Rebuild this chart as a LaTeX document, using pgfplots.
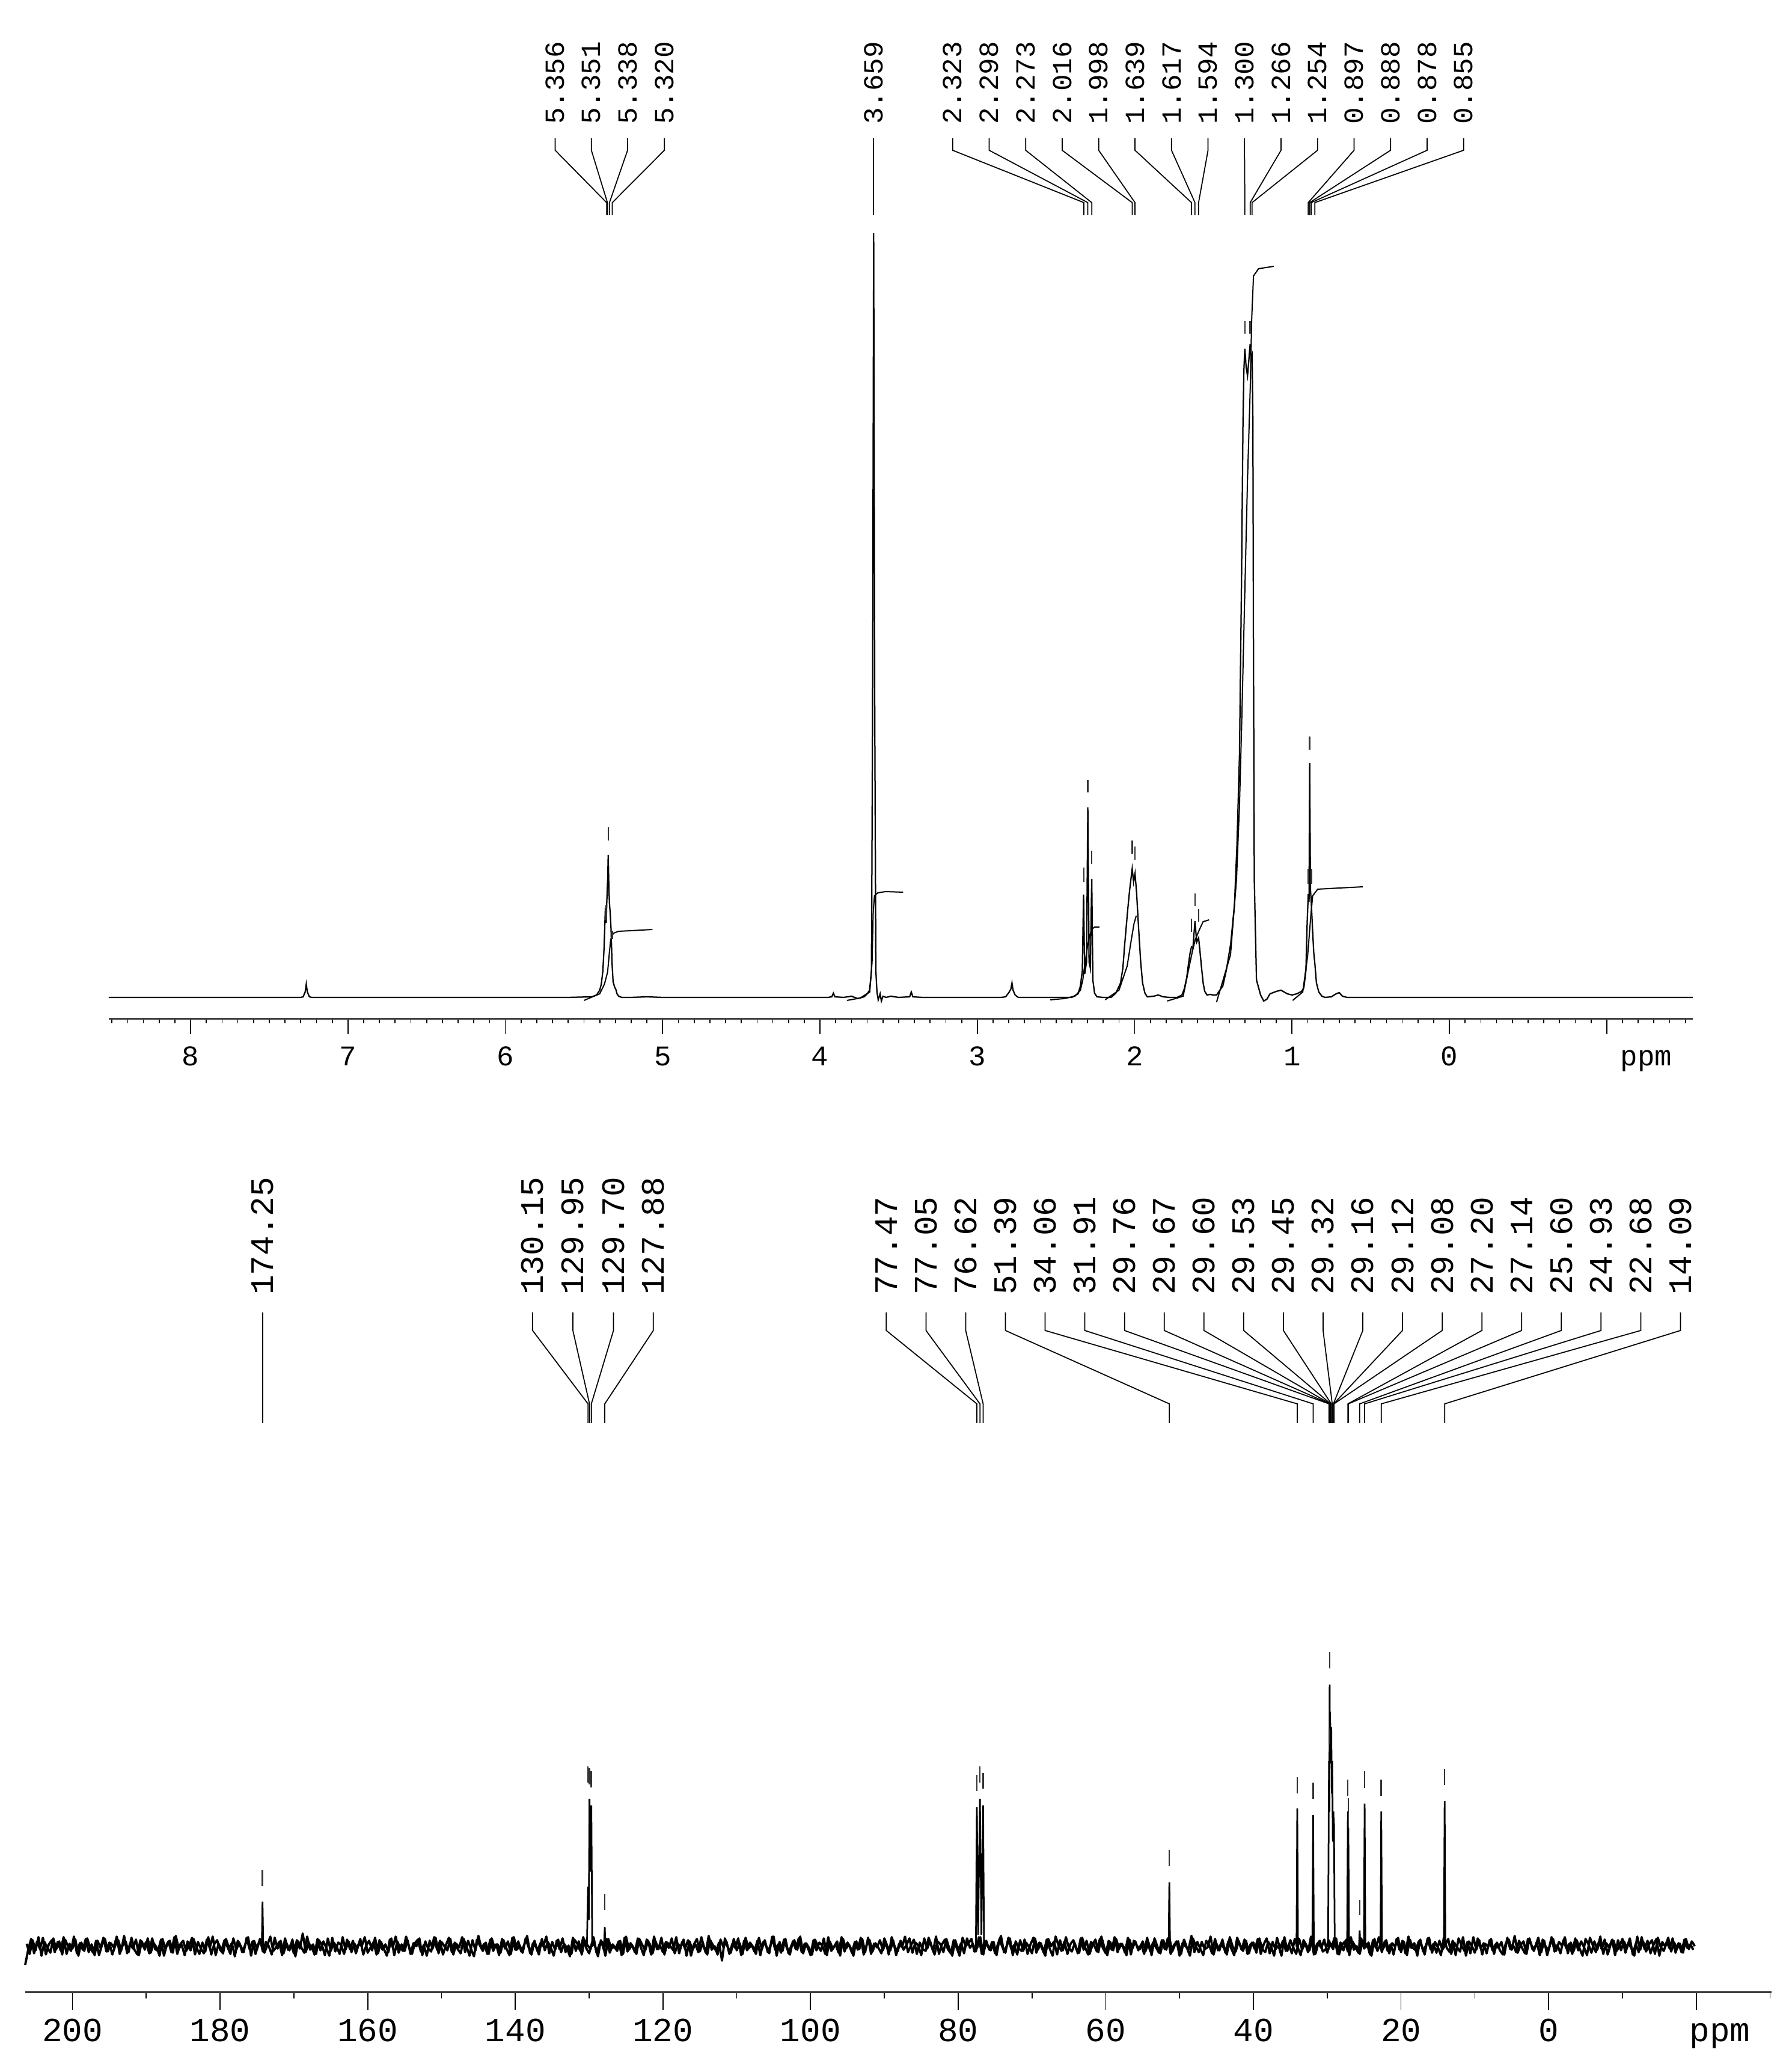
\documentclass[border=0pt]{standalone}
\usepackage{fontspec}
\setmainfont{Liberation Mono}
\usepackage{pgfplots}
\usepackage{pgfplotstable}
\pgfplotsset{compat=1.18}

% 13C baseline noise, one value every 0.4 ppm from 206.4 ppm
\pgfplotstableread[header=false,row sep=\\]{
45\\70\\88\\64\\84\\71\\90\\62\\79\\86\\66\\83\\69\\91\\63\\80\\72\\87\\60\\82\\
68\\89\\73\\65\\85\\61\\78\\88\\67\\81\\74\\92\\63\\77\\84\\66\\90\\70\\62\\86\\
75\\83\\64\\89\\71\\68\\87\\60\\80\\85\\65\\93\\72\\78\\61\\84\\69\\88\\74\\63\\
82\\67\\91\\62\\79\\86\\70\\64\\88\\73\\81\\59\\85\\76\\66\\90\\71\\84\\63\\80\\
87\\65\\77\\92\\68\\74\\83\\61\\89\\70\\79\\64\\86\\72\\97\\66\\81\\75\\62\\88\\
69\\84\\73\\60\\90\\67\\82\\78\\63\\87\\71\\85\\64\\80\\76\\91\\65\\74\\83\\62\\
86\\70\\79\\66\\89\\61\\84\\73\\68\\92\\75\\63\\81\\87\\67\\78\\60\\85\\72\\90\\
64\\83\\76\\69\\88\\62\\80\\74\\91\\66\\85\\71\\59\\87\\77\\68\\82\\63\\89\\73\\
79\\65\\86\\72\\61\\90\\70\\84\\67\\78\\93\\64\\81\\75\\62\\88\\69\\83\\74\\60\\
85\\71\\89\\66\\77\\63\\87\\80\\68\\91\\73\\64\\82\\76\\59\\86\\70\\88\\65\\79\\
72\\84\\61\\90\\67\\81\\74\\63\\88\\78\\69\\85\\62\\92\\71\\77\\66\\83\\73\\89\\
64\\80\\75\\87\\60\\84\\70\\79\\66\\91\\73\\62\\86\\77\\68\\82\\52\\89\\74\\65\\
88\\69\\81\\63\\90\\72\\78\\67\\85\\61\\83\\76\\64\\92\\70\\79\\65\\87\\73\\62\\
84\\71\\89\\66\\80\\74\\61\\86\\69\\82\\77\\63\\91\\68\\75\\84\\60\\88\\72\\79\\
65\\83\\70\\90\\62\\78\\86\\67\\81\\73\\64\\89\\76\\69\\85\\61\\80\\74\\92\\66\\
77\\87\\63\\82\\71\\68\\90\\75\\62\\84\\79\\66\\88\\72\\60\\86\\70\\81\\64\\89\\
73\\80\\67\\91\\63\\85\\76\\69\\83\\61\\88\\74\\65\\90\\71\\78\\62\\86\\68\\82\\
75\\64\\89\\70\\81\\66\\87\\72\\60\\92\\77\\68\\84\\63\\79\\86\\71\\65\\90\\74\\
62\\83\\78\\67\\88\\73\\64\\85\\70\\91\\66\\80\\75\\61\\87\\72\\84\\69\\79\\63\\
90\\68\\82\\74\\65\\86\\71\\89\\63\\77\\84\\60\\81\\76\\70\\93\\66\\83\\72\\61\\
85\\78\\64\\88\\69\\80\\73\\62\\91\\75\\67\\84\\70\\87\\63\\79\\82\\65\\89\\71\\
66\\83\\76\\60\\90\\72\\85\\68\\79\\64\\88\\74\\61\\86\\77\\69\\92\\63\\81\\73\\
87\\65\\80\\71\\89\\62\\78\\84\\67\\91\\70\\76\\63\\85\\74\\82\\60\\88\\68\\79\\
72\\86\\64\\81\\75\\90\\66\\83\\61\\87\\73\\69\\84\\77\\62\\89\\71\\80\\65\\85\\
70\\78\\88\\63\\82\\74\\67\\91\\60\\84\\76\\65\\89\\72\\81\\64\\86\\69\\79\\73\\
83\\62\\90\\71\\77\\66\\85\\73\\64\\88\\80\\68\\82\\61\\87\\75\\70\\91\\67\\78\\
64\\86\\72\\80\\63\\89\\69\\84\\74\\61\\90\\77\\66\\83\\71\\87\\62\\79\\85\\68\\
76\\88\\65\\81\\73\\60\\92\\70\\84\\67\\79\\86\\63\\90\\74\\68\\83\\72\\89\\65\\
81\\66\\87\\73\\79\\70\\
}\noiseC

% the samples in between, every 0.4 ppm from 206.2 ppm
\pgfplotstableread[header=false,row sep=\\]{
80\\63\\86\\69\\91\\60\\83\\74\\65\\89\\71\\84\\62\\87\\76\\68\\92\\64\\81\\70\\
88\\66\\79\\61\\85\\73\\90\\67\\82\\62\\77\\86\\69\\93\\64\\80\\72\\87\\61\\84\\
70\\89\\65\\81\\74\\60\\88\\71\\84\\66\\91\\63\\79\\85\\68\\76\\90\\62\\83\\72\\
64\\87\\73\\92\\61\\80\\69\\86\\75\\63\\89\\70\\82\\66\\78\\91\\60\\85\\71\\88\\
67\\83\\76\\62\\90\\72\\85\\64\\81\\69\\87\\59\\84\\74\\65\\92\\70\\79\\63\\86\\
78\\61\\89\\68\\82\\75\\63\\91\\70\\84\\66\\80\\73\\88\\62\\77\\85\\69\\90\\64\\
83\\71\\60\\87\\74\\92\\65\\79\\68\\86\\63\\81\\76\\89\\61\\84\\72\\67\\91\\70\\
85\\62\\78\\90\\66\\82\\71\\64\\88\\75\\60\\86\\69\\93\\73\\80\\63\\87\\68\\79\\
61\\88\\72\\84\\63\\91\\70\\77\\65\\89\\74\\62\\85\\68\\81\\76\\92\\64\\83\\70\\
87\\66\\80\\73\\59\\90\\68\\84\\62\\86\\77\\71\\91\\65\\79\\83\\60\\88\\72\\75\\
68\\85\\63\\92\\70\\78\\66\\89\\74\\61\\87\\80\\64\\84\\71\\90\\62\\82\\76\\69\\
91\\64\\83\\72\\86\\60\\79\\88\\67\\81\\65\\93\\70\\76\\62\\87\\74\\84\\63\\80\\
73\\89\\61\\85\\69\\82\\75\\63\\90\\71\\86\\66\\78\\92\\60\\83\\68\\88\\64\\77\\
86\\70\\92\\64\\81\\73\\62\\87\\76\\68\\89\\61\\84\\72\\79\\65\\91\\67\\82\\74\\
60\\84\\71\\88\\66\\90\\63\\80\\74\\86\\69\\83\\62\\91\\75\\67\\85\\70\\78\\89\\
65\\82\\77\\61\\89\\72\\84\\68\\92\\63\\79\\87\\71\\64\\86\\73\\60\\90\\76\\81\\
88\\67\\74\\91\\62\\85\\70\\83\\64\\80\\93\\66\\77\\89\\61\\84\\72\\68\\87\\63\\
79\\90\\65\\82\\71\\60\\88\\76\\84\\62\\86\\69\\91\\73\\67\\81\\64\\89\\70\\85\\
63\\78\\87\\66\\92\\74\\61\\83\\69\\88\\72\\80\\65\\90\\62\\85\\77\\71\\84\\68\\
82\\61\\89\\75\\64\\86\\70\\91\\67\\79\\84\\63\\87\\73\\60\\89\\76\\66\\83\\71\\
74\\92\\62\\80\\69\\87\\65\\84\\72\\61\\90\\78\\68\\85\\64\\82\\71\\88\\63\\79\\
89\\64\\83\\71\\77\\60\\91\\68\\86\\74\\63\\88\\70\\81\\66\\92\\62\\79\\85\\67\\
71\\86\\75\\90\\63\\82\\69\\87\\61\\84\\76\\65\\89\\72\\80\\62\\86\\73\\91\\66\\
84\\68\\79\\62\\88\\70\\85\\64\\92\\73\\81\\60\\87\\67\\78\\90\\65\\83\\74\\61\\
90\\73\\66\\85\\61\\89\\77\\68\\83\\64\\91\\70\\86\\62\\80\\75\\88\\63\\82\\69\\
62\\81\\87\\70\\93\\65\\78\\84\\63\\89\\71\\76\\90\\66\\85\\61\\79\\88\\68\\83\\
77\\91\\64\\82\\68\\86\\72\\60\\88\\79\\65\\84\\70\\92\\63\\81\\74\\87\\61\\86\\
69\\84\\73\\89\\62\\80\\66\\91\\71\\85\\64\\78\\88\\60\\83\\75\\90\\67\\82\\72\\
80\\65\\88\\71\\84\\76\\
}\noiseD

\begin{document}
\begin{tikzpicture}[
  leader/.style={line width=0.35pt, black},
  lblT/.style={rotate=90, anchor=west, inner sep=0pt, font=\fontsize{9.2}{10}\selectfont},
  lblB/.style={rotate=90, anchor=west, inner sep=0pt, font=\fontsize{10.9}{12}\selectfont},
]
\path[use as bounding box] (0,0) rectangle (596.2pt,688.6pt);

% ---------------- 1H spectrum ----------------
\begin{axis}[
  at={(36.2pt,349.6pt)}, anchor=south west, scale only axis,
  width=527pt, height=339pt,
  xmin=-1.547, xmax=8.52, ymin=0, ymax=1695, x dir=reverse,
  axis x line*=bottom, axis y line=none, ytick=\empty,
  xtick={-1,0,1,2,3,4,5,6,7,8}, xticklabels={,0,1,2,3,4,5,6,7,8},
  minor xtick={-1.5,-1.4,...,8.5},
  tick align=outside, major tick length=5pt, minor tick length=1.4pt,
  x axis line style={line width=0.6pt, black!75},
  xtick style={line width=0.35pt, black},
  xticklabel style={font=\fontsize{9.5}{10}\selectfont, text height=0.7em},
  clip=false,
]
\addplot[black, line width=0.45pt, mark=none] coordinates {
(8.52,36)(7.30,36)(7.285,37)(7.272,45)(7.265,58)(7.258,45)(7.245,37)(7.23,36)(6.0,36)
(5.60,36)(5.45,37)(5.42,40)(5.40,48)(5.39,58)(5.38,80)(5.372,120)(5.364,185)(5.359,160)
(5.355,195)(5.349,235)(5.346,273)(5.342,220)(5.338,192)(5.333,175)(5.328,150)(5.322,95)
(5.315,62)(5.305,53)(5.297,49)(5.29,42)(5.28,38)(5.26,36)(5.20,36)(5.10,37)(5.00,36)
(3.95,36)(3.925,37)(3.915,43)(3.905,37)(3.85,36)(3.80,38)(3.76,34)(3.72,37)(3.70,42)
(3.685,48)(3.673,80)(3.666,500)(3.659,1307)(3.652,500)(3.645,80)(3.638,45)(3.63,32)
(3.618,42)(3.61,30)(3.60,38)(3.58,36)(3.55,38)(3.50,36)(3.43,37)(3.42,45)(3.41,37)(3.35,36)
(2.85,36)(2.82,37)(2.80,44)(2.787,50)(2.78,60)(2.773,48)(2.76,40)(2.74,36)
(2.40,36)(2.36,42)(2.345,55)(2.333,80)(2.325,207)(2.318,75)(2.306,95)(2.298,352)(2.290,95)
(2.282,85)(2.273,233)(2.266,65)(2.255,43)(2.24,37)(2.20,36)
(2.15,36)(2.12,43)(2.09,60)(2.075,85)(2.065,120)(2.055,150)(2.045,180)(2.032,215)(2.016,250)
(2.007,228)(1.998,242)(1.988,210)(1.975,150)(1.962,95)(1.95,60)(1.935,43)(1.92,37)(1.88,38)
(1.85,40)(1.82,37)(1.78,36)
(1.73,36)(1.70,40)(1.685,50)(1.67,68)(1.66,88)(1.648,110)(1.639,120)(1.630,118)(1.617,163)
(1.606,128)(1.594,135)(1.585,112)(1.575,85)(1.565,60)(1.555,46)(1.54,40)(1.52,41)(1.50,40)
(1.48,40)(1.44,55)(1.417,82)(1.39,125)(1.366,190)(1.35,290)(1.334,440)(1.321,732)(1.312,990)
(1.306,1080)(1.300,1115)(1.292,1085)(1.283,1070)(1.275,1095)(1.266,1123)(1.260,1100)
(1.254,1105)(1.249,1000)(1.245,600)(1.240,232)(1.226,65)(1.20,40)(1.18,30)(1.16,33)
(1.14,42)(1.10,46)(1.07,48)(1.03,42)(1.00,40)(0.97,42)(0.94,46)(0.925,52)(0.912,80)
(0.904,160)(0.897,208)(0.892,195)(0.888,426)(0.883,215)(0.878,195)(0.870,150)(0.862,110)
(0.855,92)(0.845,60)(0.83,45)(0.81,38)(0.79,36)(0.75,37)(0.72,42)(0.70,44)(0.68,38)
(0.65,36)(-1.547,36)};
% integrals
\addplot[black, line width=0.4pt, mark=none] coordinates {(5.50,31)(5.40,42)(5.37,58)(5.35,78)(5.345,92)(5.338,112)(5.33,132)(5.32,140)(5.31,143)(5.28,146)(5.20,147)(5.065,149)};
\addplot[black, line width=0.4pt, mark=none] coordinates {(3.829,31)(3.744,35)(3.684,45)(3.669,95)(3.662,178)(3.654,205)(3.632,210)(3.584,212)(3.472,211)};
\addplot[black, line width=0.4pt, mark=none] coordinates {(2.537,32)(2.45,34)(2.38,38)(2.345,48)(2.33,65)(2.315,95)(2.30,120)(2.285,140)(2.27,150)(2.255,153)(2.224,153)};
\addplot[black, line width=0.4pt, mark=none] coordinates {(2.188,32)(2.10,48)(2.048,88)(2.024,128)(2.005,158)(1.99,172)};
\addplot[black, line width=0.4pt, mark=none] coordinates {(1.794,30)(1.692,38)(1.661,78)(1.634,112)(1.615,132)(1.590,148)(1.565,162)(1.527,165)};
\addplot[black, line width=0.4pt, mark=none] coordinates {(1.480,28)(1.391,107)(1.353,232)(1.334,357)(1.321,482)(1.283,898)(1.264,1065)(1.257,1161)(1.245,1236)(1.213,1248)(1.117,1252)};
\addplot[black, line width=0.4pt, mark=none] coordinates {(0.996,31)(0.932,45)(0.901,105)(0.881,171)(0.869,205)(0.837,216)(0.698,218)(0.55,220)};
% peak-pick marks
\addplot[black!80, line width=0.5pt, mark=none, unbounded coords=jump] coordinates {
(5.346,297)(5.346,319)(nan,nan)(5.358,165)(5.358,190)(nan,nan)(5.320,133)(5.320,147)(nan,nan)
(2.323,228)(2.323,252)(nan,nan)(2.298,377)(2.298,398)(nan,nan)(2.273,258)(2.273,280)(nan,nan)
(2.016,275)(2.016,297)(nan,nan)(1.998,265)(1.998,287)(nan,nan)
(1.639,145)(1.639,167)(nan,nan)(1.617,188)(1.617,209)(nan,nan)(1.594,162)(1.594,183)(nan,nan)
(1.300,1140)(1.300,1161)(nan,nan)(1.266,1140)(1.266,1161)(nan,nan)
(0.897,225)(0.897,250)(nan,nan)(0.888,448)(0.888,470)(nan,nan)(0.878,225)(0.878,250)};
% labels with leader lines
\foreach \c/\p in {5.683/5.356,5.453/5.351,5.223/5.338,4.989/5.320,3.659/3.659,
  3.157/2.323,2.925/2.298,2.693/2.273,2.461/2.016,2.229/1.998,1.998/1.639,1.766/1.617,
  1.534/1.594,1.302/1.300,1.070/1.266,0.838/1.254,0.606/0.897,0.374/0.888,0.142/0.878,-0.090/0.855}{
  \edef\tmp{\noexpand\draw[leader] (axis cs:\c,1465) -- (axis cs:\c,1445) -- (axis cs:\p,1358) -- (axis cs:\p,1337);
  \noexpand\node[lblT] at (axis cs:\c,1487) {\p};}\tmp}
\node[anchor=north, yshift=-5pt, inner sep=0.333em, text height=0.7em, font=\fontsize{9.5}{10}\selectfont] at (axis cs:-1.25,0) {ppm};
\end{axis}

% ---------------- 13C spectrum ----------------
\begin{axis}[
  at={(8.4pt,26pt)}, anchor=south west, scale only axis,
  width=581pt, height=282.6pt,
  xmin=-30.2, xmax=206.4, ymin=0, ymax=1413, x dir=reverse,
  axis x line*=bottom, axis y line=none, ytick=\empty,
  xtick={-20,0,20,40,60,80,100,120,140,160,180,200},
  xticklabels={,0,20,40,60,80,100,120,140,160,180,200},
  minor xtick={-30,-10,...,190},
  tick align=outside, major tick length=5.9pt, minor tick length=2.1pt,
  x axis line style={line width=0.6pt, black!75},
  xtick style={line width=0.35pt, black},
  xticklabel style={font=\fontsize{11.2}{12}\selectfont, text height=0.7em},
  clip=false,
]
\addplot[black, line width=0.75pt, line join=round, mark=none] table[x expr={206.4-0.4*\coordindex}, y index=0] {\noiseC};
\addplot[black, line width=0.75pt, line join=round, mark=none] table[x expr={206.2-0.4*\coordindex}, y index=0] {\noiseD};
\addplot[black, line width=0.55pt, mark=none, unbounded coords=jump] coordinates {
(174.35,75)(174.25,150)(174.15,75)(nan,nan)
(130.3,75)(130.15,175)(130.05,120)(129.95,321)(129.82,200)(129.70,310)(129.58,75)(nan,nan)
(127.98,75)(127.88,108)(127.78,75)(nan,nan)
(77.6,75)(77.47,307)(77.3,95)(77.05,321)(76.85,95)(76.62,310)(76.5,75)(nan,nan)
(51.49,75)(51.39,182)(51.29,75)(nan,nan)
(34.16,75)(34.06,305)(33.96,75)(nan,nan)
(32.01,75)(31.91,294)(31.81,75)(nan,nan)
(29.88,75)(29.76,384)(29.71,300)(29.67,511)(29.63,420)(29.60,465)(29.56,400)(29.53,433)
(29.49,380)(29.45,440)(29.38,330)(29.32,384)(29.24,250)(29.16,300)(29.14,260)(29.12,290)
(29.10,250)(29.08,280)(28.98,75)(nan,nan)
(27.30,75)(27.20,300)(27.17,230)(27.14,273)(27.04,75)(nan,nan)
(25.70,75)(25.60,102)(25.50,75)(nan,nan)
(25.03,75)(24.93,313)(24.83,75)(nan,nan)
(22.78,75)(22.68,300)(22.58,75)(nan,nan)
(14.19,75)(14.09,317)(13.99,75)};
\addplot[black!80, line width=0.5pt, mark=none, unbounded coords=jump] coordinates {
(174.25,176)(174.25,203)(nan,nan)(130.15,348)(130.15,375)(nan,nan)(129.95,345)(129.95,372)(nan,nan)
(129.70,340)(129.70,367)(nan,nan)(127.88,136)(127.88,163)(nan,nan)
(77.47,334)(77.47,361)(nan,nan)(77.05,348)(77.05,375)(nan,nan)(76.62,338)(76.62,364)(nan,nan)
(51.39,209)(51.39,236)(nan,nan)(34.06,330)(34.06,357)(nan,nan)(31.91,321)(31.91,348)(nan,nan)
(29.67,538)(29.67,565)(nan,nan)(29.76,413)(29.76,438)(nan,nan)
(27.20,326)(27.20,353)(nan,nan)(27.14,298)(27.14,322)(nan,nan)(25.60,128)(25.60,153)(nan,nan)
(24.93,339)(24.93,367)(nan,nan)(22.68,326)(22.68,353)(nan,nan)(14.09,344)(14.09,371)};
\foreach \c/\p in {174.25/174.25,137.66/130.15,132.2/129.95,126.7/129.70,121.3/127.88,
  89.74/77.47,84.36/77.05,78.98/76.62,73.60/51.39,68.22/34.06,62.84/31.91,57.46/29.76,
  52.08/29.67,46.70/29.60,41.32/29.53,35.94/29.45,30.56/29.32,25.18/29.16,19.80/29.12,
  14.42/29.08,9.04/27.20,3.66/27.14,-1.72/25.60,-7.10/24.93,-12.48/22.68,-17.86/14.09}{
  \edef\tmp{\noexpand\draw[leader] (axis cs:\c,1130) -- (axis cs:\c,1100) -- (axis cs:\p,978) -- (axis cs:\p,946);
  \noexpand\node[lblB] at (axis cs:\c,1158) {\p};}\tmp}
\node[anchor=north, yshift=-5.9pt, inner sep=0.333em, text height=0.7em, font=\fontsize{11.2}{12}\selectfont] at (axis cs:-23.2,0) {ppm};
\end{axis}
\end{tikzpicture}
\end{document}
